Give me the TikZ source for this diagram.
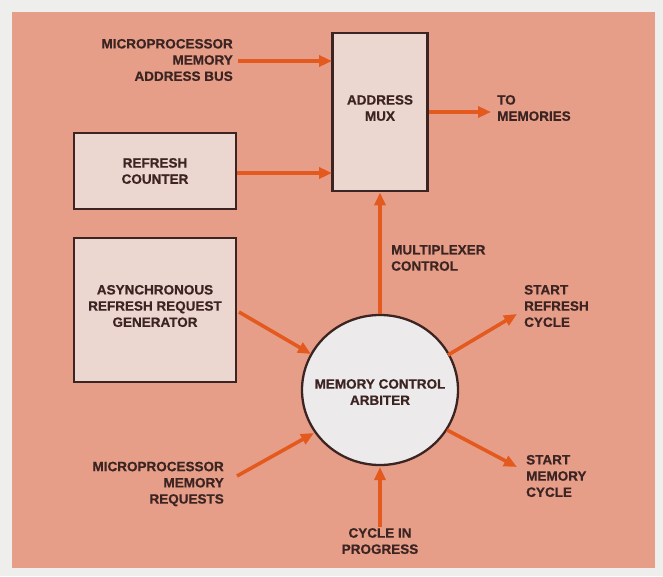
\documentclass[tikz,border=0pt]{standalone}
\usepackage{fontspec}
\setmainfont{Liberation Sans}[FakeBold=0.6]
\usetikzlibrary{arrows.meta,shapes.geometric}
\definecolor{panel}{RGB}{230,158,136}
\definecolor{outer}{RGB}{238,238,236}
\definecolor{boxfill}{RGB}{236,214,208}
\definecolor{circfill}{RGB}{236,234,234}
\definecolor{arr}{RGB}{228,90,30}
\definecolor{ink}{RGB}{60,36,34}
\tikzset{
  blk/.style={draw=ink, line width=2.8pt, fill=boxfill, inner sep=0pt},
  lbl/.style={text=ink, font=\fontsize{13.5}{16.2}\selectfont\bfseries, inner sep=0pt, align=left},
  lblr/.style={lbl, align=right},
  lblc/.style={lbl, align=center},
  sig/.style={draw=arr, line width=3.6pt, -{Triangle[length=13pt,width=11pt]}},
}
\begin{document}
\begin{tikzpicture}[x=1pt,y=-1pt]
\useasboundingbox (0,0) rectangle (663,576);
\fill[outer] (0,0) rectangle (663,576);
\fill[panel] (12,12) rectangle (655,568);
% blocks
\node[blk, minimum width=95pt, minimum height=158pt] (mux) at (380,112) {};
\node[lblc] at (380,108) {ADDRESS\\MUX};
\node[blk, minimum width=162pt, minimum height=76pt] (cnt) at (155,171) {};
\node[lblc] at (155,171) {REFRESH\\COUNTER};
\node[blk, minimum width=162pt, minimum height=144pt] (gen) at (155,310) {};
\node[lblc] at (155,306) {ASYNCHRONOUS\\REFRESH REQUEST\\GENERATOR};
\node[draw=ink, line width=2.3pt, fill=circfill, ellipse, minimum width=156pt, minimum height=150pt, inner sep=0pt] (arb) at (380,390) {};
\node[lblc] at (380,392) {MEMORY CONTROL\\ARBITER};
% coordinates
\coordinate (mabIn) at (238,61);
\coordinate (muxA) at (332,61);
\coordinate (muxB) at (332,173);
\coordinate (toMem) at (491,112);
\coordinate (genOut) at (239,312);
\coordinate (arbGen) at (311,354);
\coordinate (srOut) at (517,314);
\coordinate (arbSR) at (448,355);
\coordinate (mrIn) at (237,476);
\coordinate (arbMR) at (314,433);
\coordinate (smOut) at (517,467);
\coordinate (arbSM) at (447,430);
\coordinate (cipIn) at (380,527);
\coordinate (arbCIP) at (380,467);
% arrows
\draw[sig] (mabIn) -- (muxA);
\draw[sig] (cnt.east |- muxB) -- (muxB);
\draw[sig] (mux.east) -- (toMem);
\draw[sig] (arb.north) -- (mux.south);
\draw[sig] (genOut) -- (arbGen);
\draw[sig] (arbSR) -- (srOut);
\draw[sig] (mrIn) -- (arbMR);
\draw[sig] (arbSM) -- (smOut);
\draw[sig] (cipIn) -- (arbCIP);
% labels
\node[lblr, anchor=east] (tmab) at (233,60) {MICROPROCESSOR\\MEMORY\\ADDRESS BUS};
\node[lbl, anchor=west] (tmem) at (497,108) {TO\\MEMORIES};
\node[lbl, anchor=west] (tmux) at (391,258) {MULTIPLEXER\\CONTROL};
\node[lbl, anchor=west] (tsr) at (524,306) {START\\REFRESH\\CYCLE};
\node[lbl, anchor=west] (tsm) at (526,476) {START\\MEMORY\\CYCLE};
\node[lblr, anchor=east] (tmr) at (224,484) {MICROPROCESSOR\\MEMORY\\REQUESTS};
\node[lblc, anchor=north] (tcip) at (380,528) {CYCLE IN\\PROGRESS};
\end{tikzpicture}
\end{document}
